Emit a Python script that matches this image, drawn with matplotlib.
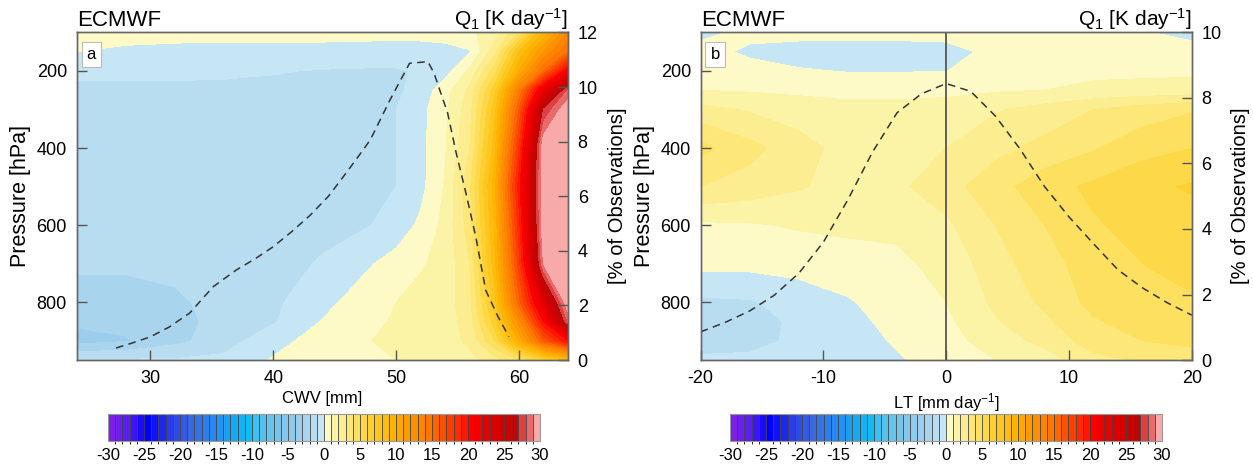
import matplotlib
matplotlib.use("Agg")
import matplotlib.pyplot as plt
import numpy as np
from matplotlib.colors import ListedColormap, BoundaryNorm, to_rgb

plt.rcParams["font.family"] = ["Liberation Sans", "DejaVu Sans"]
plt.rcParams["axes.unicode_minus"] = False
plt.rcParams["mathtext.fontset"] = "custom"
plt.rcParams["mathtext.rm"] = "Liberation Sans"
plt.rcParams["mathtext.it"] = "Liberation Sans:italic"

# ---- data ----
pressure = [100, 150, 200, 250, 300, 400, 500, 600, 700, 800, 850, 900, 950]

cwv = [24, 28, 32, 36, 40, 44, 48, 50, 52, 54, 56, 58, 60, 62, 64]
q1_cwv = [
    [0.6, 0.6, 0.5, 0.5, 0.5, 0.5, 0.4, 0.4, 0.4, 0.5, 0.8, 1.5, 4.0, 9.0, 13.0],
    [0.0, -0.3, -0.4, -0.5, -0.5, -0.5, -0.5, -0.5, -0.5, -0.4, -0.1, 2.5, 8.0, 12.0, 15.0],
    [-0.8, -0.8, -0.8, -0.85, -0.95, -1.05, -1.1, -1.1, -0.9, -0.4, 1.2, 4.5, 10.0, 15.0, 21.0],
    [-1.2, -1.2, -1.2, -1.2, -1.2, -1.2, -1.2, -1.2, -0.6, 0.6, 2.3, 6.5, 14.0, 22.0, 28.0],
    [-1.3, -1.3, -1.3, -1.3, -1.3, -1.3, -1.2, -1.0, -0.3, 0.8, 2.6, 7.5, 16.0, 27.0, 32.0],
    [-1.4, -1.4, -1.4, -1.4, -1.4, -1.4, -1.3, -1.0, -0.3, 0.9, 3.0, 8.5, 18.0, 31.0, 35.0],
    [-1.5, -1.5, -1.5, -1.5, -1.5, -1.4, -1.3, -1.0, -0.3, 1.1, 3.8, 9.5, 19.5, 34.0, 35.0],
    [-1.6, -1.6, -1.6, -1.5, -1.5, -1.3, -1.0, -0.6, 0.2, 1.3, 3.5, 9.0, 18.5, 31.0, 35.0],
    [-1.8, -1.8, -1.7, -1.5, -1.4, -0.9, -0.05, 0.4, 0.9, 1.3, 3.0, 8.5, 17.5, 29.0, 34.0],
    [-2.5, -2.5, -2.2, -1.6, -1.2, -0.3, 0.6, 1.0, 1.3, 1.5, 2.7, 7.5, 15.5, 23.0, 31.0],
    [-2.8, -2.7, -2.3, -1.7, -1.1, 0.05, 0.8, 1.1, 1.3, 1.5, 2.5, 6.5, 12.5, 20.0, 28.0],
    [-3.4, -3.1, -2.3, -1.4, -0.4, 0.5, 1.0, 1.2, 1.4, 1.6, 2.2, 5.0, 10.0, 16.0, 20.0],
    [-0.9, -0.9, -0.9, -0.8, 0.1, 0.6, 0.9, 1.0, 1.1, 1.3, 1.7, 2.5, 4.0, 6.0, 8.0],
]

lt = [-20, -16, -12, -8, -4, 0, 4, 8, 12, 16, 20]
q1_lt = [
    [-0.3, 0.3, 0.4, 0.4, 0.4, 0.4, 0.4, 0.4, 0.3, 0.1, -0.4],
    [0.4, -0.2, -0.5, -0.55, -0.55, -0.4, 0.3, 0.5, 0.5, 0.5, 0.5],
    [0.6, 0.4, 0.1, -0.05, -0.05, -0.02, 0.5, 0.7, 0.8, 0.8, 0.8],
    [1.0, 0.9, 0.8, 0.7, 0.7, 0.7, 0.9, 1.0, 1.2, 1.3, 1.4],
    [2.3, 1.9, 1.5, 1.3, 1.3, 1.5, 1.9, 2.4, 3.0, 3.5, 3.9],
    [4.3, 3.3, 2.4, 1.6, 1.6, 2.0, 2.7, 3.3, 3.9, 4.6, 5.0],
    [3.0, 2.6, 2.1, 1.6, 1.8, 2.6, 3.6, 4.6, 5.2, 5.8, 6.1],
    [0.8, 0.9, 1.1, 1.2, 1.2, 1.8, 3.0, 4.0, 4.9, 5.3, 5.6],
    [0.3, 0.3, 0.4, 0.6, 0.8, 1.3, 2.6, 3.6, 4.5, 5.0, 5.3],
    [-1.2, -1.1, -0.6, -0.1, 0.5, 1.0, 2.2, 3.2, 4.3, 4.7, 4.9],
    [-1.6, -1.4, -0.8, -0.3, 0.3, 0.8, 1.9, 2.8, 3.9, 4.4, 4.6],
    [-1.5, -1.3, -0.8, -0.4, 0.1, 0.6, 1.5, 2.3, 3.5, 4.0, 4.3],
    [-0.8, -0.8, -0.6, -0.4, -0.1, 0.4, 1.0, 1.5, 2.7, 3.1, 3.4],
]

obs_cwv_x = [27.2, 28.5, 30.0, 31.5, 33.2, 35.1, 37.0, 38.5, 40.0, 41.5, 43.0, 44.5,
             45.7, 47.0, 47.9, 49.5, 51.1, 52.6, 53.1, 54.2, 54.9, 55.7, 56.5, 57.3,
             58.3, 59.2]
obs_cwv = [0.44, 0.62, 0.85, 1.2, 1.72, 2.68, 3.3, 3.7, 4.15, 4.7, 5.3, 6.0,
           6.71, 7.5, 8.06, 9.52, 10.87, 10.93, 10.5, 9.05, 7.58, 6.1, 4.5, 2.56,
           1.59, 0.85]

obs_lt_x = [-20, -18, -16, -14, -12, -10, -8, -6, -4, -2, 0, 2, 4, 6, 8, 10, 12, 14,
            16, 18, 20]
obs_lt = [0.86, 1.15, 1.5, 1.98, 2.65, 3.6, 4.9, 6.35, 7.55, 8.13, 8.44, 8.2, 7.45,
          6.45, 5.3, 4.37, 3.55, 2.75, 2.2, 1.75, 1.37]

levels = np.arange(-30, 31, 1)
cbar_ticks = list(range(-30, 31, 5))

# colour table (value, colour) sampled from the colour bar
anchors = [
    (-29.5, "#7b1fe6"), (-27.5, "#5a1ef2"), (-24.5, "#0000ff"), (-21.5, "#2a3ce8"),
    (-18.5, "#3a68e0"), (-15.5, "#2a86f0"), (-12.5, "#14aaf4"), (-10.5, "#10bcf4"),
    (-9.5, "#40c0f0"), (-6.5, "#78c4ea"), (-3.5, "#9ccdec"), (-2.5, "#a8d4ee"),
    (-1.5, "#b8ddf1"), (-0.5, "#c6e6f5"),
    (0.5, "#fefac8"), (1.5, "#fbf3a6"), (2.5, "#fcee90"), (4.5, "#fde060"),
    (6.5, "#fdd030"), (9.5, "#fdb400"), (14.5, "#fc7800"), (19.5, "#fc1800"),
    (20.5, "#fc0000"), (24.5, "#d40000"), (26.5, "#b80808"), (27.5, "#dc4040"),
    (28.5, "#e86a6a"), (29.5, "#f8aaaa"),
]
av = np.array([a[0] for a in anchors])
ac = np.array([to_rgb(a[1]) for a in anchors])
centers = levels[:-1] + 0.5
colors = np.stack([np.interp(centers, av, ac[:, i]) for i in range(3)], axis=1)
cmap = ListedColormap(colors)
norm = BoundaryNorm(levels, cmap.N)

fig = plt.figure(figsize=(12.53, 4.70), dpi=100)

panels = [
    dict(x=cwv, q=q1_cwv, ox=obs_cwv_x, oy=obs_cwv, xlim=(24, 64), xticks=[30, 40, 50, 60],
         xlabel="CWV [mm]", rlim=(0, 12), rticks=range(0, 13, 2), tag="a",
         pos=[0.0612, 0.234, 0.3921, 0.697], cpos=[0.0862, 0.062, 0.3448, 0.057]),
    dict(x=lt, q=q1_lt, ox=obs_lt_x, oy=obs_lt, xlim=(-20, 20), xticks=[-20, -10, 0, 10, 20],
         xlabel="LT [mm day$^{-1}$]", rlim=(0, 10), rticks=range(0, 11, 2), tag="b",
         pos=[0.5592, 0.234, 0.3919, 0.697], cpos=[0.5826, 0.062, 0.3448, 0.057]),
]

spine_c = "#666666"
for p in panels:
    ax = fig.add_axes(p["pos"])
    q = np.clip(np.array(p["q"]), -29.99, 29.99)
    cf = ax.contourf(p["x"], pressure, q, levels=levels, cmap=cmap, norm=norm)
    if p["tag"] == "b":
        ax.axvline(0, color="#555555", lw=1.3)
    ax.set_xlim(*p["xlim"])
    ax.set_ylim(950, 100)
    ax.set_xticks(p["xticks"])
    ax.set_yticks([200, 400, 600, 800])
    ax.set_xlabel(p["xlabel"], fontsize=12, labelpad=3)
    ax.set_ylabel("Pressure [hPa]", fontsize=15.5, labelpad=4)
    ax.tick_params(direction="in", length=7.5, width=1, color="#555555",
                   labelsize=13, pad=7)
    ax.set_title("ECMWF", loc="left", fontsize=16, pad=2)
    ax.set_title("Q$_1$ [K day$^{-1}$]", loc="right", fontsize=15, pad=2)

    ax2 = ax.twinx()
    ax2.plot(p["ox"], p["oy"], ls=(0, (5, 3.5)), color="#333333", lw=1.1)
    ax2.set_ylim(*p["rlim"])
    ax2.set_yticks(list(p["rticks"]))
    ax2.set_ylabel("[% of Observations]", fontsize=14.5, labelpad=7)
    ax2.tick_params(direction="in", length=7.5, width=1, color="#555555",
                    labelsize=13, pad=7)
    for a in (ax, ax2):
        for s in a.spines.values():
            s.set_color(spine_c)
            s.set_linewidth(1.0)
    ax2.text(0.02, 0.955, p["tag"], transform=ax2.transAxes, ha="left", va="top",
             fontsize=12,
             bbox=dict(boxstyle="square,pad=0.3", fc="white", ec="#bbbbbb", lw=0.8))

    cax = fig.add_axes(p["cpos"])
    cb = fig.colorbar(cf, cax=cax, orientation="horizontal", ticks=cbar_ticks,
                      drawedges=True)
    cb.dividers.set_color("#444444")
    cb.dividers.set_linewidth(0.6)
    cb.outline.set_edgecolor("#999999")
    cb.outline.set_linewidth(0.8)
    cax.tick_params(length=0, labelsize=12, pad=5)

fig.savefig("out.png", dpi=100)
